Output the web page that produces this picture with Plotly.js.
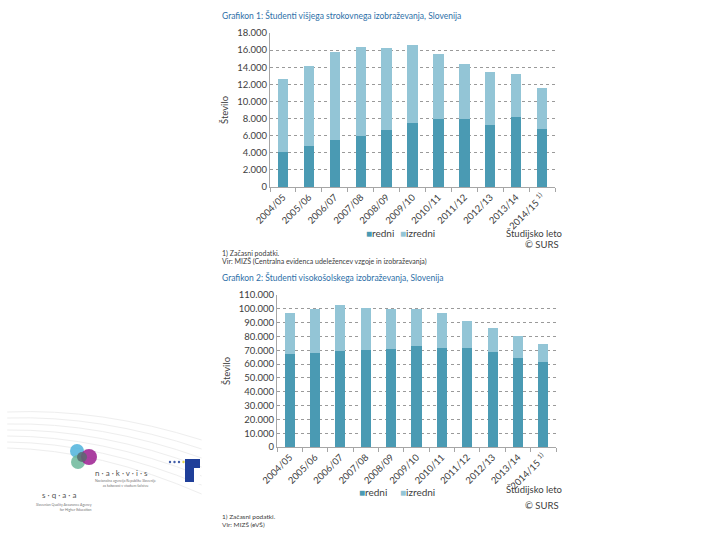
<!DOCTYPE html>
<html>
<head>
<meta charset="utf-8">
<script src="https://cdn.plot.ly/plotly-3.0.1.min.js"></script>
<style>
  body { margin: 0; background: #fff; }
  #chart { width: 720px; height: 540px; }
</style>
</head>
<body>
<div id="chart"></div>
<script>
// Study years (shared by both charts).
const years = ["2004/05", "2005/06", "2006/07", "2007/08", "2008/09", "2009/10",
               "2010/11", "2011/12", "2012/13", "2013/14", "2014/15"];
const yearLabels = years.slice(0, 10).concat(["2014/15 <sup>1)</sup>"]);
const seriesNames = ["redni", "izredni"];

// Grafikon 1: višje strokovno izobraževanje (totals and full-time part).
const vssRedni = [4050, 4800, 5500, 5950, 6700, 7500, 7990, 7950, 7250, 8150, 6820];
const vssSkupaj = [12600, 14180, 15780, 16400, 16250, 16640, 15580, 14410, 13400, 13240, 11530];

// Grafikon 2: visokošolsko izobraževanje.
const vsRedni = [67100, 68100, 69500, 70200, 71200, 72900, 71500, 71500, 68800, 64400, 61200];
const vsSkupaj = [96900, 99800, 102900, 100500, 100200, 100000, 96800, 91000, 85800, 80000, 74400];

const vssIzredni = vssSkupaj.map((v, i) => v - vssRedni[i]);
const vsIzredni = vsSkupaj.map((v, i) => v - vsRedni[i]);

const darkColor = '#4a9ab3';
const lightColor = '#93c5d6';
const font = 'Lato, "Open Sans", sans-serif';

function barTrace(y, name, color, xa, ya) {
  return {
    type: 'bar', x: years, y: y, name: name,
    xaxis: xa, yaxis: ya, showlegend: false,
    marker: {color: color},
    hoverinfo: 'skip'
  };
}

const data = [
  barTrace(vssRedni, seriesNames[0], darkColor, 'x', 'y'),
  barTrace(vssIzredni, seriesNames[1], lightColor, 'x', 'y'),
  barTrace(vsRedni, seriesNames[0], darkColor, 'x2', 'y2'),
  barTrace(vsIzredni, seriesNames[1], lightColor, 'x2', 'y2')
];

function xAxis(domain, anchor) {
  return {
    domain: domain, anchor: anchor,
    type: 'category',
    categoryorder: 'array', categoryarray: years,
    tickvals: years, ticktext: yearLabels,
    tickangle: -45,
    tickfont: {size: 9.5, color: '#404040'},
    showline: true, linecolor: '#a6a6a6', linewidth: 1,
    ticks: 'outside', tickson: 'boundaries', ticklen: 4, tickcolor: '#a6a6a6',
    showgrid: false
  };
}

function yAxis(domain, anchor, range, dtick) {
  return {
    domain: domain, anchor: anchor,
    range: range, dtick: dtick,
    tickformat: ',d',
    tickfont: {size: 9.5, color: '#404040'},
    showline: true, linecolor: '#a6a6a6', linewidth: 1,
    gridcolor: '#9a9a9a', griddash: 'dot', gridwidth: 1,
    zeroline: false,
    ticks: '',
    title: {text: 'Število', font: {size: 9.5, color: '#404040'}, standoff: 6}
  };
}

// Small helper for free text on the slide.
function note(text, x, y, opts) {
  return Object.assign({
    text: text, xref: 'paper', yref: 'paper',
    x: x / 720, y: 1 - y / 540,
    xanchor: 'left', yanchor: 'middle',
    showarrow: false,
    font: {family: font, size: 8.5, color: '#404040'}
  }, opts || {});
}

// Compact legend key: small square glued to the label, as in the original.
function key(name, color, x, y) {
  return note('<span style="color:' + color + '">■</span>' + name, x, y,
              {font: {family: font, size: 10, color: '#404040'}});
}

const titleFont = {family: font, size: 8.5, color: '#2e6fa8'};
const labelFont = {family: font, size: 9.5, color: '#404040'};

const annotations = [
  note('Grafikon 1: Študenti višjega strokovnega izobraževanja, Slovenija', 220, 15, {font: titleFont}),
  key(seriesNames[0], darkColor, 364, 233),
  key(seriesNames[1], lightColor, 398, 233),
  note('Študijsko leto', 564, 233, {xanchor: 'right', font: labelFont}),
  note('© SURS', 561, 244, {xanchor: 'right', font: labelFont}),
  note('1) Začasni podatki.', 220, 253, {font: {family: font, size: 7, color: '#404040'}}),
  note('Vir: MIZŠ (Centralna evidenca udeležencev vzgoje in izobraževanja)', 220, 261, {font: {family: font, size: 7, color: '#404040'}}),
  note('Grafikon 2: Študenti visokošolskega izobraževanja, Slovenija', 220, 277, {font: titleFont}),
  key(seriesNames[0], darkColor, 357, 492),
  key(seriesNames[1], lightColor, 398, 492),
  note('Študijsko leto', 564, 489, {xanchor: 'right', font: labelFont}),
  note('© SURS', 561, 505, {xanchor: 'right', font: labelFont}),
  note('1) Začasni podatki.', 220, 516, {font: {family: font, size: 6.5, color: '#404040'}}),
  note('Vir: MIZŠ (eVŠ)', 220, 524, {font: {family: font, size: 6.5, color: '#404040'}}),
  // logos
  note('n · a · k · v · i · s', 93, 473, {font: {family: font, size: 8, color: '#555'}}),
  note('Nacionalna agencija Republike Slovenije<br>za kakovost v visokem šolstvu', 93, 483, {font: {family: font, size: 3.5, color: '#777'}}),
  note('s · q · a · a', 40, 495, {font: {family: font, size: 8, color: '#555'}}),
  note('Slovenian Quality Assurance Agency<br>for Higher Education', 94, 507, {xanchor: 'right', align: 'right', font: {family: font, size: 3.5, color: '#777'}})
];

const shapes = [];
// faint background sweep lines on the left
for (let k = 0; k < 7; k++) {
  shapes.push({
    type: 'path', xref: 'paper', yref: 'paper',
    path: 'M 0.01 ' + (1 - (412 + k * 6) / 540) + ' Q 0.14 ' + (1 - (408 + k * 7) / 540) +
          ' 0.28 ' + (1 - (440 + k * 9) / 540),
    line: {color: '#eeeeee', width: 1}
  });
}
function circle(cx, cy, r, color) {
  return {
    type: 'circle', xref: 'paper', yref: 'paper',
    x0: (cx - r) / 720, x1: (cx + r) / 720,
    y0: 1 - (cy + r) / 540, y1: 1 - (cy - r) / 540,
    fillcolor: color, opacity: 0.85, line: {width: 0}
  };
}
shapes.push(circle(77, 451, 7, '#4fb3dc'));
shapes.push(circle(78, 462, 7, '#6cb79a'));
shapes.push(circle(89, 457, 8, '#9b1d8f'));
shapes.push(circle(82, 457, 5, '#5b6a70'));
shapes.push({
  type: 'rect', xref: 'paper', yref: 'paper',
  x0: 185 / 720, x1: 200 / 720, y0: 1 - 482 / 540, y1: 1 - 459 / 540,
  fillcolor: '#1f3f99', line: {width: 0}
});
shapes.push({
  type: 'rect', xref: 'paper', yref: 'paper',
  x0: 194 / 720, x1: 200 / 720, y0: 1 - 484 / 540, y1: 1 - 468 / 540,
  fillcolor: '#ffffff', line: {width: 0}
});
for (let s = 0; s < 4; s++) {
  shapes.push(circle(170 + s * 4.5, 462, 1.2, s === 3 ? '#e0d02a' : '#1f3f99'));
}

const layout = {
  width: 720, height: 540,
  margin: {l: 0, r: 0, t: 0, b: 0},
  paper_bgcolor: '#ffffff', plot_bgcolor: '#ffffff',
  font: {family: font, size: 9.5, color: '#404040'},
  separators: ',.',
  barmode: 'stack',
  bargap: 0.6,
  showlegend: false,
  xaxis: xAxis([270 / 720, 555 / 720], 'y'),
  yaxis: yAxis([1 - 187 / 540, 1 - 33 / 540], 'x', [0, 18000], 2000),
  xaxis2: xAxis([277 / 720, 556 / 720], 'y2'),
  yaxis2: yAxis([1 - 447 / 540, 1 - 295 / 540], 'x2', [0, 110000], 10000),
  annotations: annotations,
  shapes: shapes
};

Plotly.newPlot('chart', data, layout, {displayModeBar: false, staticPlot: true});
</script>
</body>
</html>
